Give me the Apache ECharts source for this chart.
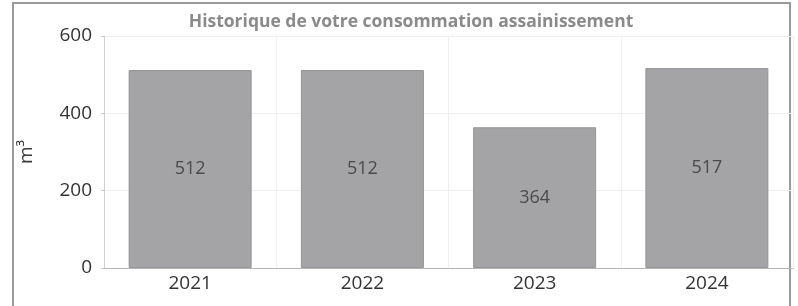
<!DOCTYPE html>
<html>
<head>
<meta charset="utf-8">
<script src="https://cdn.jsdelivr.net/npm/echarts@6/dist/echarts.min.js"></script>
<style>
  html, body { margin: 0; padding: 0; background: #fff; }
  #chart-container { width: 798px; height: 306px; }
</style>
</head>
<body>
<div id="chart-container"></div>
<script>
// data
let years = ['2021', '2022', '2023', '2024'];
let volumes = [512, 512, 364, 517];
let yTicks = [0, 200, 400, 600];
let chartTitle = 'Historique de votre consommation assainissement';

let myChart = echarts.init(document.getElementById('chart-container'));

var option = {
    animation: false,
    title: {
        text: chartTitle,
        left: 406,
        top: 8,
        textAlign: 'center',
        textStyle: {
            fontFamily: 'Open Sans',
            fontWeight: 'bold',
            fontSize: 17.5,
            color: '#8a8a8a'
        }
    },
    graphic: [{
        type: 'rect',
        shape: { x: 13, y: 3, width: 777, height: 310 },
        style: { fill: 'none', stroke: '#9a9a9a', lineWidth: 2 },
        silent: true
    }],
    grid: {
        left: 104,
        top: 36,
        width: 689,
        height: 232
    },
    xAxis: {
        type: 'category',
        data: years,
        axisLine: { lineStyle: { color: '#b5b5b5' } },
        axisTick: { show: false },
        splitLine: { show: true, lineStyle: { color: '#efefef' } },
        axisLabel: {
            fontFamily: 'Open Sans',
            fontSize: 19,
            fontWeight: 500,
            color: '#333',
            margin: 6
        }
    },
    yAxis: {
        type: 'value',
        min: yTicks[0],
        max: yTicks[yTicks.length - 1],
        interval: 200,
        name: 'm³',
        nameLocation: 'middle',
        nameGap: 68,
        nameRotate: 90,
        nameTextStyle: {
            fontFamily: 'Open Sans',
            fontSize: 19,
            fontWeight: 500,
            color: '#3a3a3a'
        },
        axisLine: { show: true, lineStyle: { color: '#d0d0d0' } },
        axisTick: { show: true, length: 3, lineStyle: { color: '#c8c8c8' } },
        splitLine: { show: true, lineStyle: { color: '#efefef' } },
        axisLabel: {
            fontFamily: 'Open Sans',
            fontSize: 19,
            fontWeight: 500,
            color: '#333',
            margin: 12
        }
    },
    series: [{
        name: 'Consommation',
        type: 'bar',
        data: volumes,
        barWidth: 123,
        itemStyle: {
            color: '#a4a4a6',
            borderColor: '#959597',
            borderWidth: 1
        },
        label: {
            show: true,
            position: 'inside',
            fontFamily: 'Open Sans',
            fontSize: 18,
            color: '#4a4a4a'
        }
    }]
};

myChart.setOption(option);
</script>
</body>
</html>
